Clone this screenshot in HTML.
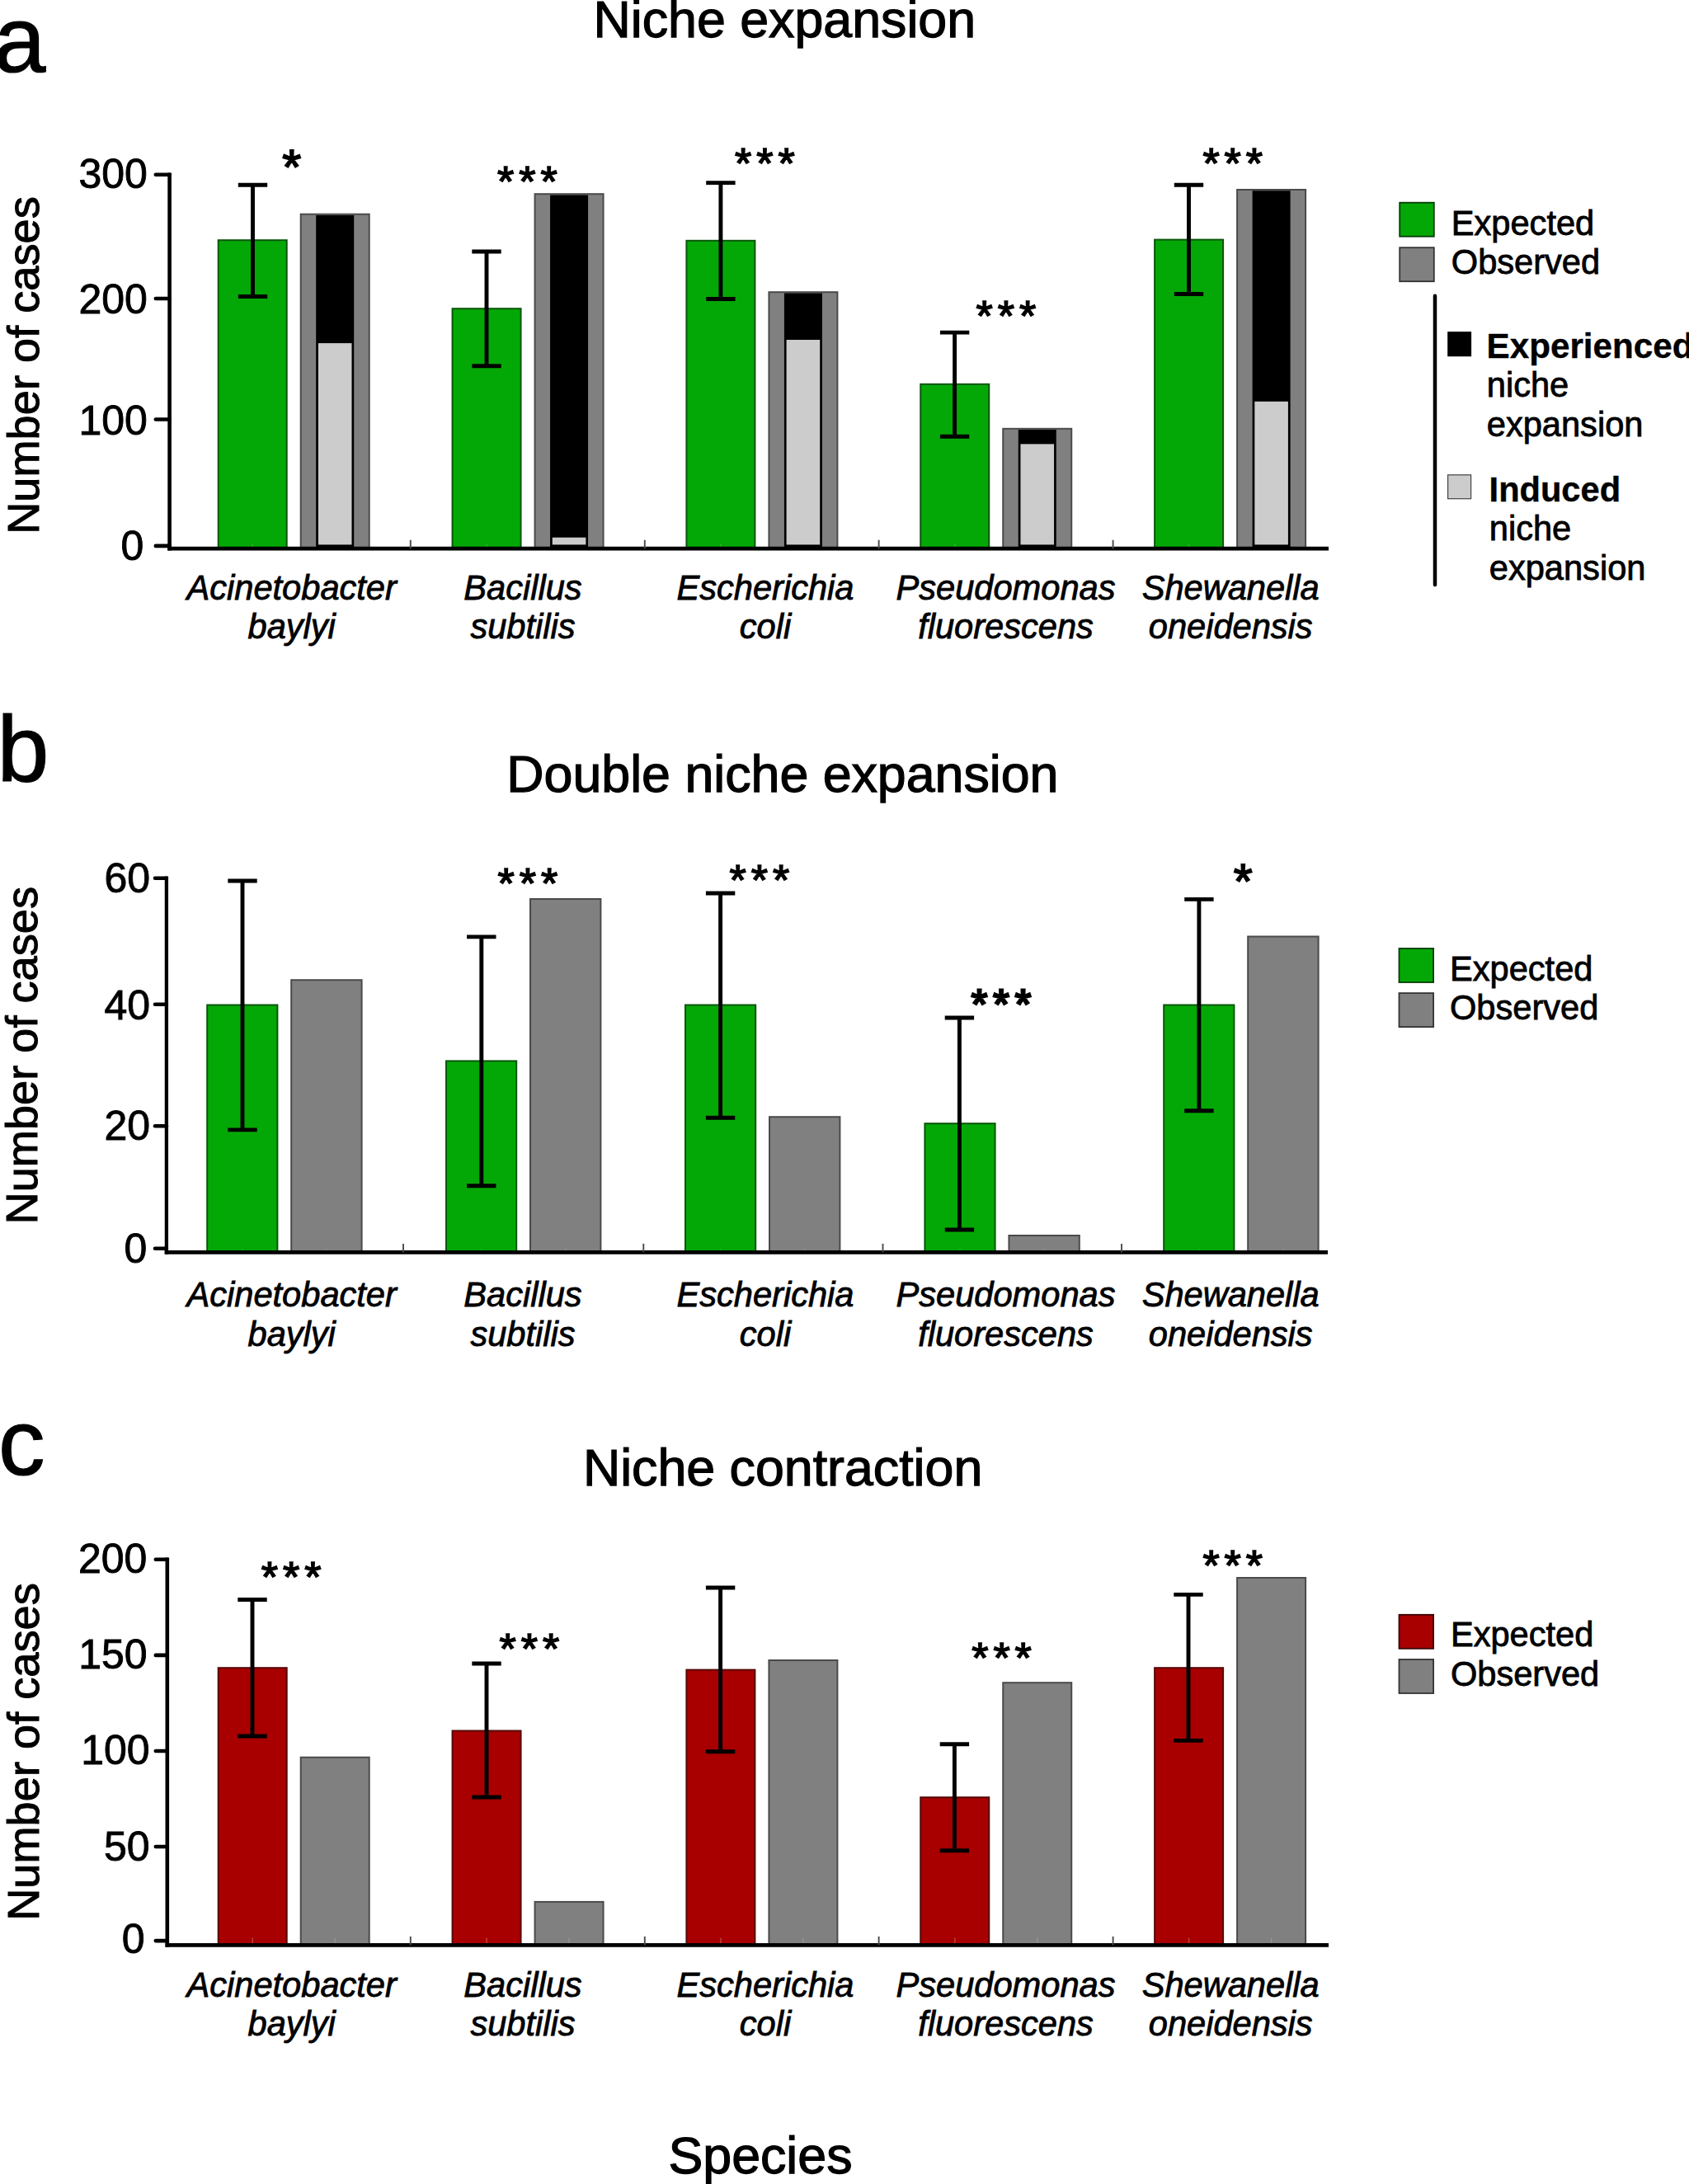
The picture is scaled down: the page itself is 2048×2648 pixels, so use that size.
<!DOCTYPE html>
<html lang="en"><head><meta charset="utf-8"><title>Niche expansion and contraction</title>
<style>
html,body{margin:0;padding:0;background:#fff;}
body{width:2048px;height:2648px;overflow:hidden;}
svg{display:block;}
svg text{font-family:"Liberation Sans",sans-serif;fill:#000;}
</style></head><body>
<svg width="2048" height="2648" viewBox="0 0 2048 2648">
<rect width="2048" height="2648" fill="#fff"/>
<text x="-7.50" y="87.00" font-size="113" text-anchor="start" stroke="#000" stroke-width="1.20" >a</text>
<text x="951.30" y="45.20" font-size="62.7" text-anchor="middle" stroke="#000" stroke-width="1.25" >Niche expansion</text>
<text transform="translate(47.2 443) rotate(-90)" font-size="54.2" text-anchor="middle" stroke="#000" stroke-width="1.0">Number of cases</text>
<rect x="264.70" y="291.20" width="83.00" height="374.00" fill="#04a806" stroke="#0a560c" stroke-width="2"/>
<path d="M306.20 659.20V664.20" stroke="#2eaf30" stroke-width="1.5" fill="none"/>
<rect x="364.70" y="259.70" width="83.00" height="405.50" fill="#808080" stroke="#4a4a4a" stroke-width="2"/>
<path d="M406.20 659.20V664.20" stroke="#939393" stroke-width="1.5" fill="none"/>
<rect x="383.20" y="261.00" width="46" height="404.20" fill="#000"/>
<rect x="385.90" y="416.10" width="40.6" height="244.30" fill="#cccccc"/>
<path d="M288.80 224.20H324.20M288.80 359.50H324.20M306.50 224.20V359.50" stroke="#000" stroke-width="4.9" fill="none"/>
<rect x="548.55" y="374.20" width="83.00" height="291.00" fill="#04a806" stroke="#0a560c" stroke-width="2"/>
<path d="M590.05 659.20V664.20" stroke="#2eaf30" stroke-width="1.5" fill="none"/>
<rect x="648.55" y="235.20" width="83.00" height="430.00" fill="#808080" stroke="#4a4a4a" stroke-width="2"/>
<path d="M690.05 659.20V664.20" stroke="#939393" stroke-width="1.5" fill="none"/>
<rect x="667.05" y="236.50" width="46" height="428.70" fill="#000"/>
<rect x="669.75" y="651.70" width="40.6" height="8.70" fill="#cccccc"/>
<path d="M572.30 305.00H607.70M572.30 443.80H607.70M590.00 305.00V443.80" stroke="#000" stroke-width="4.9" fill="none"/>
<rect x="832.40" y="291.80" width="83.00" height="373.40" fill="#04a806" stroke="#0a560c" stroke-width="2"/>
<path d="M873.90 659.20V664.20" stroke="#2eaf30" stroke-width="1.5" fill="none"/>
<rect x="932.40" y="354.20" width="83.00" height="311.00" fill="#808080" stroke="#4a4a4a" stroke-width="2"/>
<path d="M973.90 659.20V664.20" stroke="#939393" stroke-width="1.5" fill="none"/>
<rect x="950.90" y="355.50" width="46" height="309.70" fill="#000"/>
<rect x="953.60" y="412.00" width="40.6" height="248.40" fill="#cccccc"/>
<path d="M856.20 221.60H891.60M856.20 362.50H891.60M873.90 221.60V362.50" stroke="#000" stroke-width="4.9" fill="none"/>
<rect x="1116.25" y="465.80" width="83.00" height="199.40" fill="#04a806" stroke="#0a560c" stroke-width="2"/>
<path d="M1157.75 659.20V664.20" stroke="#2eaf30" stroke-width="1.5" fill="none"/>
<rect x="1216.25" y="519.80" width="83.00" height="145.40" fill="#808080" stroke="#4a4a4a" stroke-width="2"/>
<path d="M1257.75 659.20V664.20" stroke="#939393" stroke-width="1.5" fill="none"/>
<rect x="1234.75" y="521.10" width="46" height="144.10" fill="#000"/>
<rect x="1237.45" y="538.40" width="40.6" height="122.00" fill="#cccccc"/>
<path d="M1139.90 403.10H1175.30M1139.90 529.30H1175.30M1157.60 403.10V529.30" stroke="#000" stroke-width="4.9" fill="none"/>
<rect x="1400.10" y="290.60" width="83.00" height="374.60" fill="#04a806" stroke="#0a560c" stroke-width="2"/>
<path d="M1441.60 659.20V664.20" stroke="#2eaf30" stroke-width="1.5" fill="none"/>
<rect x="1500.10" y="230.00" width="83.00" height="435.20" fill="#808080" stroke="#4a4a4a" stroke-width="2"/>
<path d="M1541.60 659.20V664.20" stroke="#939393" stroke-width="1.5" fill="none"/>
<rect x="1518.60" y="231.30" width="46" height="433.90" fill="#000"/>
<rect x="1521.30" y="486.80" width="40.6" height="173.60" fill="#cccccc"/>
<path d="M1423.80 224.20H1459.20M1423.80 356.50H1459.20M1441.50 224.20V356.50" stroke="#000" stroke-width="4.9" fill="none"/>
<path d="M205.6 209.4V667.5" stroke="#000" stroke-width="4.6" fill="none"/>
<path d="M203.29999999999998 665.2H1611" stroke="#000" stroke-width="4.7" fill="none"/>
<path d="M188.8 211.7H205.6" stroke="#000" stroke-width="4.6" stroke-linecap="round" fill="none"/>
<text x="178.90" y="228.10" font-size="50" text-anchor="end" stroke="#000" stroke-width="0.90" >300</text>
<path d="M188.8 362H205.6" stroke="#000" stroke-width="4.6" stroke-linecap="round" fill="none"/>
<text x="178.90" y="379.80" font-size="50" text-anchor="end" stroke="#000" stroke-width="0.90" >200</text>
<path d="M188.8 508.5H205.6" stroke="#000" stroke-width="4.6" stroke-linecap="round" fill="none"/>
<text x="178.90" y="526.90" font-size="50" text-anchor="end" stroke="#000" stroke-width="0.90" >100</text>
<path d="M188.8 661.9H205.6" stroke="#000" stroke-width="4.6" stroke-linecap="round" fill="none"/>
<text x="174.30" y="679.10" font-size="50" text-anchor="end" stroke="#000" stroke-width="0.90" >0</text>
<path d="M497.8 654.7V665.2" stroke="#4a4a4a" stroke-width="1.9" fill="none"/>
<path d="M781.8 654.7V665.2" stroke="#4a4a4a" stroke-width="1.9" fill="none"/>
<path d="M1065.6 654.7V665.2" stroke="#4a4a4a" stroke-width="1.9" fill="none"/>
<path d="M1349.6 654.7V665.2" stroke="#4a4a4a" stroke-width="1.9" fill="none"/>
<text x="355.42" y="222.84" font-size="59" text-anchor="middle" letter-spacing="3.25" stroke="#000" stroke-width="1.8" stroke-linejoin="miter">*</text>
<text x="642.39" y="238.09" font-size="52" text-anchor="middle" letter-spacing="5.97" stroke="#000" stroke-width="1.6" stroke-linejoin="miter">***</text>
<text x="930.39" y="215.89" font-size="52" text-anchor="middle" letter-spacing="5.97" stroke="#000" stroke-width="1.6" stroke-linejoin="miter">***</text>
<text x="1222.89" y="400.59" font-size="52" text-anchor="middle" letter-spacing="5.97" stroke="#000" stroke-width="1.6" stroke-linejoin="miter">***</text>
<text x="1497.69" y="215.89" font-size="52" text-anchor="middle" letter-spacing="5.97" stroke="#000" stroke-width="1.6" stroke-linejoin="miter">***</text>
<text x="353.70" y="726.50" font-size="41.6" text-anchor="middle" stroke="#000" stroke-width="0.83"  style="font-style:italic">Acinetobacter</text>
<text x="353.70" y="773.60" font-size="41.6" text-anchor="middle" stroke="#000" stroke-width="0.83"  style="font-style:italic">baylyi</text>
<text x="634.00" y="726.50" font-size="41.6" text-anchor="middle" stroke="#000" stroke-width="0.83"  style="font-style:italic">Bacillus</text>
<text x="634.00" y="773.60" font-size="41.6" text-anchor="middle" stroke="#000" stroke-width="0.83"  style="font-style:italic">subtilis</text>
<text x="928.00" y="726.50" font-size="41.6" text-anchor="middle" stroke="#000" stroke-width="0.83"  style="font-style:italic">Escherichia</text>
<text x="928.00" y="773.60" font-size="41.6" text-anchor="middle" stroke="#000" stroke-width="0.83"  style="font-style:italic">coli</text>
<text x="1219.50" y="726.50" font-size="41.6" text-anchor="middle" stroke="#000" stroke-width="0.83"  style="font-style:italic">Pseudomonas</text>
<text x="1219.50" y="773.60" font-size="41.6" text-anchor="middle" stroke="#000" stroke-width="0.83"  style="font-style:italic">fluorescens</text>
<text x="1492.20" y="726.50" font-size="41.6" text-anchor="middle" stroke="#000" stroke-width="0.83"  style="font-style:italic">Shewanella</text>
<text x="1492.20" y="773.60" font-size="41.6" text-anchor="middle" stroke="#000" stroke-width="0.83"  style="font-style:italic">oneidensis</text>
<rect x="1697.20" y="245.70" width="41.6" height="41" fill="#04a806" stroke="#063b07" stroke-width="1.8"/>
<rect x="1697.20" y="300.20" width="41.6" height="41" fill="#808080" stroke="#333" stroke-width="1.8"/>
<text x="1759.80" y="284.60" font-size="41.6" text-anchor="start" stroke="#000" stroke-width="0.83" >Expected</text>
<text x="1759.80" y="332.00" font-size="41.6" text-anchor="start" stroke="#000" stroke-width="0.83" >Observed</text>
<path d="M1740 358.7V709" stroke="#000" stroke-width="4.5" stroke-linecap="round" fill="none"/>
<rect x="1755.2" y="402.1" width="28.9" height="30.1" fill="#000"/>
<rect x="1755.6" y="575.8" width="28" height="28.9" fill="#cccccc" stroke="#444" stroke-width="1.2"/>
<text x="1802.60" y="433.80" font-size="41.6" text-anchor="start" stroke="#000" stroke-width="0.40" textLength="250.8" lengthAdjust="spacingAndGlyphs"  style="font-weight:bold">Experienced</text>
<text x="1802.80" y="481.40" font-size="41.6" text-anchor="start" stroke="#000" stroke-width="0.83" >niche</text>
<text x="1802.80" y="528.70" font-size="41.6" text-anchor="start" stroke="#000" stroke-width="0.83" >expansion</text>
<text x="1805.60" y="607.60" font-size="41.6" text-anchor="start" stroke="#000" stroke-width="0.40"  style="font-weight:bold">Induced</text>
<text x="1805.80" y="655.10" font-size="41.6" text-anchor="start" stroke="#000" stroke-width="0.83" >niche</text>
<text x="1805.80" y="702.70" font-size="41.6" text-anchor="start" stroke="#000" stroke-width="0.83" >expansion</text>
<text x="-3.50" y="946.50" font-size="113" text-anchor="start" stroke="#000" stroke-width="1.20" >b</text>
<text x="948.90" y="960.00" font-size="62.7" text-anchor="middle" stroke="#000" stroke-width="1.25" >Double niche expansion</text>
<text transform="translate(45.2 1279.7) rotate(-90)" font-size="54.2" text-anchor="middle" stroke="#000" stroke-width="1.0">Number of cases</text>
<rect x="251.20" y="1218.50" width="85.20" height="299.90" fill="#04a806" stroke="#0a560c" stroke-width="2"/>
<path d="M293.80 1514.40V1517.40" stroke="#2eaf30" stroke-width="1.5" fill="none"/>
<rect x="353.20" y="1188.20" width="85.40" height="330.20" fill="#808080" stroke="#4a4a4a" stroke-width="2"/>
<path d="M395.90 1514.40V1517.40" stroke="#939393" stroke-width="1.5" fill="none"/>
<path d="M276.30 1068.00H311.70M276.30 1369.90H311.70M294.00 1068.00V1369.90" stroke="#000" stroke-width="4.9" fill="none"/>
<rect x="541.00" y="1286.40" width="85.20" height="232.00" fill="#04a806" stroke="#0a560c" stroke-width="2"/>
<path d="M583.60 1514.40V1517.40" stroke="#2eaf30" stroke-width="1.5" fill="none"/>
<rect x="643.00" y="1090.00" width="85.40" height="428.40" fill="#808080" stroke="#4a4a4a" stroke-width="2"/>
<path d="M685.70 1514.40V1517.40" stroke="#939393" stroke-width="1.5" fill="none"/>
<path d="M566.10 1135.90H601.50M566.10 1437.80H601.50M583.80 1135.90V1437.80" stroke="#000" stroke-width="4.9" fill="none"/>
<rect x="831.00" y="1218.50" width="85.20" height="299.90" fill="#04a806" stroke="#0a560c" stroke-width="2"/>
<path d="M873.60 1514.40V1517.40" stroke="#2eaf30" stroke-width="1.5" fill="none"/>
<rect x="933.00" y="1354.20" width="85.40" height="164.20" fill="#808080" stroke="#4a4a4a" stroke-width="2"/>
<path d="M975.70 1514.40V1517.40" stroke="#939393" stroke-width="1.5" fill="none"/>
<path d="M855.90 1083.00H891.30M855.90 1355.30H891.30M873.60 1083.00V1355.30" stroke="#000" stroke-width="4.9" fill="none"/>
<rect x="1121.40" y="1362.20" width="85.20" height="156.20" fill="#04a806" stroke="#0a560c" stroke-width="2"/>
<path d="M1164.00 1514.40V1517.40" stroke="#2eaf30" stroke-width="1.5" fill="none"/>
<rect x="1223.40" y="1498.00" width="85.40" height="20.40" fill="#808080" stroke="#4a4a4a" stroke-width="2"/>
<path d="M1266.10 1514.40V1517.40" stroke="#939393" stroke-width="1.5" fill="none"/>
<path d="M1145.70 1234.00H1181.10M1145.70 1491.00H1181.10M1163.40 1234.00V1491.00" stroke="#000" stroke-width="4.9" fill="none"/>
<rect x="1411.20" y="1218.50" width="85.20" height="299.90" fill="#04a806" stroke="#0a560c" stroke-width="2"/>
<path d="M1453.80 1514.40V1517.40" stroke="#2eaf30" stroke-width="1.5" fill="none"/>
<rect x="1513.20" y="1135.50" width="85.40" height="382.90" fill="#808080" stroke="#4a4a4a" stroke-width="2"/>
<path d="M1555.90 1514.40V1517.40" stroke="#939393" stroke-width="1.5" fill="none"/>
<path d="M1436.20 1090.40H1471.60M1436.20 1346.80H1471.60M1453.90 1090.40V1346.80" stroke="#000" stroke-width="4.9" fill="none"/>
<path d="M201.9 1062.4V1520.7" stroke="#000" stroke-width="4.3" fill="none"/>
<path d="M199.75 1518.4H1610" stroke="#000" stroke-width="4.7" fill="none"/>
<path d="M188.0 1064.7H201.9" stroke="#000" stroke-width="4.6" stroke-linecap="round" fill="none"/>
<text x="182.20" y="1082.20" font-size="50" text-anchor="end" stroke="#000" stroke-width="0.90" >60</text>
<path d="M188.0 1217.8H201.9" stroke="#000" stroke-width="4.6" stroke-linecap="round" fill="none"/>
<text x="182.20" y="1235.70" font-size="50" text-anchor="end" stroke="#000" stroke-width="0.90" >40</text>
<path d="M188.0 1365.3H201.9" stroke="#000" stroke-width="4.6" stroke-linecap="round" fill="none"/>
<text x="182.20" y="1382.40" font-size="50" text-anchor="end" stroke="#000" stroke-width="0.90" >20</text>
<path d="M188.0 1513.7H201.9" stroke="#000" stroke-width="4.6" stroke-linecap="round" fill="none"/>
<text x="178.30" y="1530.70" font-size="50" text-anchor="end" stroke="#000" stroke-width="0.90" >0</text>
<path d="M489 1507.9V1518.4" stroke="#4a4a4a" stroke-width="1.9" fill="none"/>
<path d="M780.3 1507.9V1518.4" stroke="#4a4a4a" stroke-width="1.9" fill="none"/>
<path d="M1070.5 1507.9V1518.4" stroke="#4a4a4a" stroke-width="1.9" fill="none"/>
<path d="M1360 1507.9V1518.4" stroke="#4a4a4a" stroke-width="1.9" fill="none"/>
<text x="642.89" y="1088.69" font-size="52" text-anchor="middle" letter-spacing="5.97" stroke="#000" stroke-width="1.6" stroke-linejoin="miter">***</text>
<text x="923.79" y="1084.69" font-size="52" text-anchor="middle" letter-spacing="5.97" stroke="#000" stroke-width="1.6" stroke-linejoin="miter">***</text>
<text x="1217.58" y="1235.15" font-size="50" text-anchor="middle" letter-spacing="7.15" stroke="#000" stroke-width="2.8" stroke-linejoin="miter">***</text>
<text x="1508.82" y="1089.44" font-size="59" text-anchor="middle" letter-spacing="3.25" stroke="#000" stroke-width="1.8" stroke-linejoin="miter">*</text>
<text x="353.70" y="1584.40" font-size="41.6" text-anchor="middle" stroke="#000" stroke-width="0.83"  style="font-style:italic">Acinetobacter</text>
<text x="353.70" y="1632.00" font-size="41.6" text-anchor="middle" stroke="#000" stroke-width="0.83"  style="font-style:italic">baylyi</text>
<text x="634.00" y="1584.40" font-size="41.6" text-anchor="middle" stroke="#000" stroke-width="0.83"  style="font-style:italic">Bacillus</text>
<text x="634.00" y="1632.00" font-size="41.6" text-anchor="middle" stroke="#000" stroke-width="0.83"  style="font-style:italic">subtilis</text>
<text x="928.00" y="1584.40" font-size="41.6" text-anchor="middle" stroke="#000" stroke-width="0.83"  style="font-style:italic">Escherichia</text>
<text x="928.00" y="1632.00" font-size="41.6" text-anchor="middle" stroke="#000" stroke-width="0.83"  style="font-style:italic">coli</text>
<text x="1219.50" y="1584.40" font-size="41.6" text-anchor="middle" stroke="#000" stroke-width="0.83"  style="font-style:italic">Pseudomonas</text>
<text x="1219.50" y="1632.00" font-size="41.6" text-anchor="middle" stroke="#000" stroke-width="0.83"  style="font-style:italic">fluorescens</text>
<text x="1492.20" y="1584.40" font-size="41.6" text-anchor="middle" stroke="#000" stroke-width="0.83"  style="font-style:italic">Shewanella</text>
<text x="1492.20" y="1632.00" font-size="41.6" text-anchor="middle" stroke="#000" stroke-width="0.83"  style="font-style:italic">oneidensis</text>
<rect x="1696.50" y="1150.00" width="41.6" height="41" fill="#04a806" stroke="#063b07" stroke-width="1.8"/>
<rect x="1696.50" y="1204.10" width="41.6" height="41" fill="#808080" stroke="#333" stroke-width="1.8"/>
<text x="1758.00" y="1188.60" font-size="41.6" text-anchor="start" stroke="#000" stroke-width="0.83" >Expected</text>
<text x="1758.00" y="1236.00" font-size="41.6" text-anchor="start" stroke="#000" stroke-width="0.83" >Observed</text>
<text x="-2.00" y="1787.50" font-size="113" text-anchor="start" stroke="#000" stroke-width="1.20" >c</text>
<text x="949.10" y="1800.60" font-size="62.7" text-anchor="middle" stroke="#000" stroke-width="1.25" >Niche contraction</text>
<text transform="translate(46.8 2124) rotate(-90)" font-size="54.2" text-anchor="middle" stroke="#000" stroke-width="1.0">Number of cases</text>
<rect x="264.70" y="2022.20" width="83.00" height="336.20" fill="#a80000" stroke="#560808" stroke-width="2"/>
<path d="M306.20 2349.40V2357.40" stroke="#bb4040" stroke-width="1.5" fill="none"/>
<rect x="364.70" y="2130.70" width="83.00" height="227.70" fill="#808080" stroke="#4a4a4a" stroke-width="2"/>
<path d="M406.20 2349.40V2357.40" stroke="#939393" stroke-width="1.5" fill="none"/>
<path d="M288.30 1939.50H323.70M288.30 2105.00H323.70M306.00 1939.50V2105.00" stroke="#000" stroke-width="4.9" fill="none"/>
<rect x="548.55" y="2098.50" width="83.00" height="259.90" fill="#a80000" stroke="#560808" stroke-width="2"/>
<path d="M590.05 2349.40V2357.40" stroke="#bb4040" stroke-width="1.5" fill="none"/>
<rect x="648.55" y="2305.90" width="83.00" height="52.50" fill="#808080" stroke="#4a4a4a" stroke-width="2"/>
<path d="M690.05 2349.40V2357.40" stroke="#939393" stroke-width="1.5" fill="none"/>
<path d="M572.30 2017.00H607.70M572.30 2179.00H607.70M590.00 2017.00V2179.00" stroke="#000" stroke-width="4.9" fill="none"/>
<rect x="832.40" y="2024.60" width="83.00" height="333.80" fill="#a80000" stroke="#560808" stroke-width="2"/>
<path d="M873.90 2349.40V2357.40" stroke="#bb4040" stroke-width="1.5" fill="none"/>
<rect x="932.40" y="2013.00" width="83.00" height="345.40" fill="#808080" stroke="#4a4a4a" stroke-width="2"/>
<path d="M973.90 2349.40V2357.40" stroke="#939393" stroke-width="1.5" fill="none"/>
<path d="M855.90 1925.00H891.30M855.90 2123.80H891.30M873.60 1925.00V2123.80" stroke="#000" stroke-width="4.9" fill="none"/>
<rect x="1116.25" y="2179.20" width="83.00" height="179.20" fill="#a80000" stroke="#560808" stroke-width="2"/>
<path d="M1157.75 2349.40V2357.40" stroke="#bb4040" stroke-width="1.5" fill="none"/>
<rect x="1216.25" y="2040.20" width="83.00" height="318.20" fill="#808080" stroke="#4a4a4a" stroke-width="2"/>
<path d="M1257.75 2349.40V2357.40" stroke="#939393" stroke-width="1.5" fill="none"/>
<path d="M1139.70 2114.70H1175.10M1139.70 2243.80H1175.10M1157.40 2114.70V2243.80" stroke="#000" stroke-width="4.9" fill="none"/>
<rect x="1400.10" y="2022.20" width="83.00" height="336.20" fill="#a80000" stroke="#560808" stroke-width="2"/>
<path d="M1441.60 2349.40V2357.40" stroke="#bb4040" stroke-width="1.5" fill="none"/>
<rect x="1500.10" y="1913.00" width="83.00" height="445.40" fill="#808080" stroke="#4a4a4a" stroke-width="2"/>
<path d="M1541.60 2349.40V2357.40" stroke="#939393" stroke-width="1.5" fill="none"/>
<path d="M1423.30 1933.40H1458.70M1423.30 2110.40H1458.70M1441.00 1933.40V2110.40" stroke="#000" stroke-width="4.9" fill="none"/>
<path d="M202.8 1888.4V2360.7000000000003" stroke="#000" stroke-width="4.6" fill="none"/>
<path d="M200.5 2358.4H1611" stroke="#000" stroke-width="4.7" fill="none"/>
<path d="M188.8 1890.7H202.8" stroke="#000" stroke-width="4.6" stroke-linecap="round" fill="none"/>
<text x="178.40" y="1906.70" font-size="50" text-anchor="end" stroke="#000" stroke-width="0.90" >200</text>
<path d="M188.8 2006.9H202.8" stroke="#000" stroke-width="4.6" stroke-linecap="round" fill="none"/>
<text x="178.70" y="2023.10" font-size="50" text-anchor="end" stroke="#000" stroke-width="0.90" >150</text>
<path d="M188.8 2123H202.8" stroke="#000" stroke-width="4.6" stroke-linecap="round" fill="none"/>
<text x="181.60" y="2139.40" font-size="50" text-anchor="end" stroke="#000" stroke-width="0.90" >100</text>
<path d="M188.8 2239H202.8" stroke="#000" stroke-width="4.6" stroke-linecap="round" fill="none"/>
<text x="181.60" y="2256.10" font-size="50" text-anchor="end" stroke="#000" stroke-width="0.90" >50</text>
<path d="M188.8 2353.1H202.8" stroke="#000" stroke-width="4.6" stroke-linecap="round" fill="none"/>
<text x="175.60" y="2368.40" font-size="50" text-anchor="end" stroke="#000" stroke-width="0.90" >0</text>
<path d="M497.8 2347.9V2358.4" stroke="#4a4a4a" stroke-width="1.9" fill="none"/>
<path d="M781.8 2347.9V2358.4" stroke="#4a4a4a" stroke-width="1.9" fill="none"/>
<path d="M1065.6 2347.9V2358.4" stroke="#4a4a4a" stroke-width="1.9" fill="none"/>
<path d="M1349.6 2347.9V2358.4" stroke="#4a4a4a" stroke-width="1.9" fill="none"/>
<text x="356.09" y="1930.09" font-size="52" text-anchor="middle" letter-spacing="5.97" stroke="#000" stroke-width="1.6" stroke-linejoin="miter">***</text>
<text x="644.79" y="2017.19" font-size="52" text-anchor="middle" letter-spacing="5.97" stroke="#000" stroke-width="1.6" stroke-linejoin="miter">***</text>
<text x="1217.49" y="2027.69" font-size="52" text-anchor="middle" letter-spacing="5.97" stroke="#000" stroke-width="1.6" stroke-linejoin="miter">***</text>
<text x="1497.69" y="1915.99" font-size="52" text-anchor="middle" letter-spacing="5.97" stroke="#000" stroke-width="1.6" stroke-linejoin="miter">***</text>
<text x="353.70" y="2421.20" font-size="41.6" text-anchor="middle" stroke="#000" stroke-width="0.83"  style="font-style:italic">Acinetobacter</text>
<text x="353.70" y="2468.30" font-size="41.6" text-anchor="middle" stroke="#000" stroke-width="0.83"  style="font-style:italic">baylyi</text>
<text x="634.00" y="2421.20" font-size="41.6" text-anchor="middle" stroke="#000" stroke-width="0.83"  style="font-style:italic">Bacillus</text>
<text x="634.00" y="2468.30" font-size="41.6" text-anchor="middle" stroke="#000" stroke-width="0.83"  style="font-style:italic">subtilis</text>
<text x="928.00" y="2421.20" font-size="41.6" text-anchor="middle" stroke="#000" stroke-width="0.83"  style="font-style:italic">Escherichia</text>
<text x="928.00" y="2468.30" font-size="41.6" text-anchor="middle" stroke="#000" stroke-width="0.83"  style="font-style:italic">coli</text>
<text x="1219.50" y="2421.20" font-size="41.6" text-anchor="middle" stroke="#000" stroke-width="0.83"  style="font-style:italic">Pseudomonas</text>
<text x="1219.50" y="2468.30" font-size="41.6" text-anchor="middle" stroke="#000" stroke-width="0.83"  style="font-style:italic">fluorescens</text>
<text x="1492.20" y="2421.20" font-size="41.6" text-anchor="middle" stroke="#000" stroke-width="0.83"  style="font-style:italic">Shewanella</text>
<text x="1492.20" y="2468.30" font-size="41.6" text-anchor="middle" stroke="#000" stroke-width="0.83"  style="font-style:italic">oneidensis</text>
<rect x="1696.50" y="1957.80" width="41.6" height="41" fill="#a80000" stroke="#3a0505" stroke-width="1.8"/>
<rect x="1696.50" y="2012.00" width="41.6" height="41" fill="#808080" stroke="#333" stroke-width="1.8"/>
<text x="1758.90" y="1996.20" font-size="41.6" text-anchor="start" stroke="#000" stroke-width="0.83" >Expected</text>
<text x="1758.90" y="2043.60" font-size="41.6" text-anchor="start" stroke="#000" stroke-width="0.83" >Observed</text>
<text x="922.00" y="2634.80" font-size="62.7" text-anchor="middle" stroke="#000" stroke-width="1.25" >Species</text>
</svg>
</body></html>
